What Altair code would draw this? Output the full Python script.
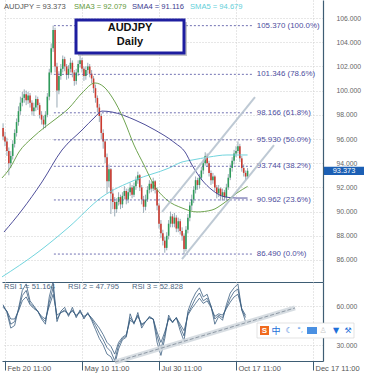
import altair as alt
import pandas as pd

# ---------------- data ----------------
BARS = list(range(-1, 127))
FIRST_OPEN = 96.9
CLOSES = [96.2, 95.8, 95.0, 94.0, 94.6, 95.6, 96.5, 97.4, 98.3, 99.0,
          99.4, 99.7, 99.2, 99.6, 99.0, 98.3, 98.6, 99.3, 98.8, 98.0,
          97.6, 97.2, 98.0, 99.5, 101.5, 103.5, 105.0, 102.0, 100.0, 101.2,
          101.8, 102.6, 102.0, 101.3, 101.8, 102.3, 101.5, 100.8, 101.5, 102.2,
          102.5, 101.8, 101.2, 101.7, 102.0, 101.4, 101.0, 100.2, 99.4, 98.6,
          97.9, 96.5, 95.8, 94.5, 92.5, 93.5, 91.5, 90.8, 90.2, 90.8,
          91.2, 90.6, 91.3, 91.7, 91.0, 91.6, 92.0, 91.4, 92.1, 92.6,
          93.0, 92.0, 91.0, 90.4, 91.0, 91.8, 92.3, 91.9, 92.5, 91.8,
          90.5, 89.0, 88.2, 87.6, 87.0, 88.0, 89.0, 89.6, 89.0, 89.5,
          88.6, 89.2, 88.4, 88.0, 86.9, 88.5, 89.5, 90.5, 91.0, 91.8,
          92.6, 92.2, 92.8, 93.4, 94.0, 94.6, 94.0, 93.2, 92.6, 92.9,
          92.0, 91.5, 91.9, 91.3, 91.6, 91.2, 92.0, 92.8, 93.6, 94.2,
          94.8, 95.0, 95.4, 94.4, 93.6, 93.2, 92.9, 93.373]
HIGHS = [97.3, 96.6, 96.1, 95.3, 95.0, 95.9, 96.8, 97.7, 98.7, 99.5,
         99.9, 100.1, 100.0, 99.9, 99.8, 99.2, 99.0, 99.6, 99.5, 99.0,
         98.3, 97.9, 98.3, 99.8, 101.8, 103.9, 105.37, 105.2, 102.3, 101.6,
         102.2, 102.9, 102.8, 102.2, 102.1, 102.7, 102.5, 101.7, 101.8, 102.5,
         102.9, 102.7, 102.0, 102.0, 102.3, 102.2, 101.7, 101.2, 100.5, 99.6,
         98.9, 98.1, 96.8, 96.0, 94.8, 93.9, 93.6, 91.9, 91.2, 91.1,
         91.6, 91.4, 91.6, 92.1, 91.9, 91.9, 92.4, 92.2, 92.4, 92.9,
         93.3, 93.1, 92.2, 91.3, 91.4, 92.1, 92.6, 92.5, 92.8, 92.6,
         92.0, 90.7, 89.3, 88.5, 87.9, 88.3, 89.3, 90.0, 89.8, 89.9,
         89.7, 89.5, 89.4, 88.7, 88.2, 88.8, 89.8, 90.8, 91.4, 92.1,
         92.9, 92.8, 93.1, 93.7, 94.3, 94.9, 94.8, 94.2, 93.4, 93.2,
         93.0, 92.2, 92.2, 92.0, 91.9, 91.8, 92.3, 93.1, 93.9, 94.5,
         95.1, 95.4, 95.8, 95.6, 94.6, 93.9, 93.4, 93.6]
LOWS = [95.9, 95.4, 94.6, 93.0, 93.6, 94.3, 95.3, 96.2, 97.1, 98.0,
        98.7, 99.0, 98.8, 98.9, 98.6, 98.0, 97.9, 98.3, 98.4, 97.7,
        97.2, 96.8, 96.9, 97.8, 99.2, 101.3, 103.2, 101.5, 98.6, 99.7,
        100.9, 101.5, 101.6, 100.9, 101.0, 101.5, 101.1, 100.4, 100.5, 101.2,
        101.9, 101.5, 100.8, 100.9, 101.4, 101.1, 100.6, 99.8, 99.0, 98.2,
        97.4, 96.0, 95.2, 94.0, 91.5, 92.0, 89.8, 90.2, 89.6, 89.9,
        90.5, 90.2, 90.3, 91.0, 90.6, 90.7, 91.3, 91.1, 91.2, 91.8,
        92.3, 91.7, 90.6, 89.9, 90.1, 90.8, 91.5, 91.6, 91.7, 91.5,
        90.1, 88.6, 87.8, 87.2, 86.6, 86.8, 87.7, 88.7, 88.7, 88.7,
        88.3, 88.3, 88.1, 87.6, 86.49, 86.7, 88.2, 89.2, 90.1, 90.7,
        91.5, 91.8, 91.9, 92.6, 93.1, 93.8, 93.7, 92.9, 92.2, 92.3,
        91.7, 91.1, 91.2, 90.9, 91.0, 90.9, 91.0, 91.8, 92.6, 93.3,
        93.9, 94.5, 94.8, 94.1, 93.3, 92.9, 92.6, 92.7]

SMA3_BARS = [-1.56, 2.60, 7.27, 14.03, 20.78, 27.01, 33.25, 40.0, 46.75, 51.43, 55.58,
             61.82, 67.01, 72.21, 77.40, 84.16, 91.95, 99.74, 107.53, 113.77, 120.52, 126.0]
SMA3_VALUES = [92.78, 93.60, 94.93, 96.08, 96.99, 97.74, 98.56, 99.80, 100.63, 100.30, 99.47,
               97.57, 95.50, 93.85, 92.20, 90.96, 90.30, 89.97, 90.13, 90.71, 91.54, 92.08]
SMA4_BARS = [-0.52, 8.83, 19.22, 29.61, 40.0, 46.75, 50.39, 55.58, 67.53, 77.92, 88.31,
             93.51, 97.14, 102.34, 107.53, 114.29, 120.52, 126.0]
SMA4_VALUES = [88.31, 90.13, 92.45, 95.09, 96.74, 97.82, 98.31, 98.23, 97.57, 96.74, 95.67,
               94.93, 93.85, 92.61, 91.79, 91.21, 91.12, 91.12]
SMA5_BARS = [-1.56, 16.62, 33.25, 50.39, 67.53, 85.19, 91.95, 97.14, 105.97, 115.32, 126.0]
SMA5_VALUES = [84.60, 86.58, 88.73, 91.21, 92.61, 93.60, 94.10, 94.26, 94.51, 94.68, 94.68]

FIB_PRICES = [105.370, 101.346, 98.166, 95.930, 93.744, 90.962, 86.490]
FIB_PCTS = [100.0, 78.6, 61.8, 50.0, 38.2, 23.6, 0.0]
FIB_START, FIB_END, FIB_LABEL_BAR = 25.4, 128.3, 130.8

CH_BARS = [81.56, 129.87, 91.95, 139.74]
CH_PRICES = [89.97, 99.47, 86.08, 95.50]
CH_IDS = ["upper", "upper", "lower", "lower"]

RSI_BARS = list(range(-1, 127, 2))
RSI1 = [60, 56, 46, 48, 57, 68, 72, 62, 59, 56,
        51, 48, 63, 74, 50, 55, 57, 53, 57, 52,
        56, 51, 54, 50, 45, 39, 34, 28, 25, 18,
        30, 35, 37, 51, 47, 53, 45, 48, 51, 50,
        37, 27, 38, 51, 48, 51, 44, 37, 54, 60,
        66, 70, 64, 66, 60, 50, 53, 51, 59, 66,
        71, 73, 57, 51.164]
RSI2 = [61, 55, 43, 45, 58, 72, 77, 64, 60, 56,
        50, 46, 67, 79, 48, 56, 59, 52, 59, 51,
        57, 50, 55, 49, 42, 35, 30, 23, 21, 15,
        27, 34, 36, 54, 46, 55, 43, 48, 52, 50,
        32, 22, 35, 53, 47, 51, 41, 33, 56, 64,
        70, 74, 67, 69, 60, 46, 52, 49, 61, 70,
        74, 77, 57, 47.795]
RSI3 = [59, 56, 50, 50, 56, 64, 67, 61, 58, 56,
        52, 50, 60, 69, 53, 55, 56, 54, 56, 53,
        55, 52, 54, 51, 47, 43, 38, 32, 29, 23,
        32, 36, 38, 49, 47, 52, 46, 48, 51, 50,
        40, 32, 40, 50, 48, 51, 46, 41, 53, 58,
        62, 66, 62, 64, 59, 52, 54, 53, 58, 63,
        67, 69, 58, 52.828]
RT_BARS = [57.14, 150.65]
RT_VALUES = [16.9, 58.5]

TICK_BARS = [0, 40, 80, 120, 160]
TICK_LABELS = ["Feb 20 11:00", "May 10 11:00", "Jul 30 11:00", "Oct 17 11:00", "Dec 17 11:00"]
PRICE_TICKS = [86, 88, 90, 92, 94, 96, 98, 100, 102, 104, 106]
RSI_TICKS = [30, 60]

LAST_PRICE = 93.373
LEGEND_TEXTS = ["AUDJPY = 93.373", "SMA3 = 92.079", "SMA4 = 91.116", "SMA5 = 94.679"]
RSI_TEXTS = ["RSI 1 = 51.164", "RSI 2 = 47.795", "RSI 3 = 52.828"]

# ---------------- layout / style ----------------
W, H_MAIN, H_RSI = 321, 282, 79
X_DOMAIN = [-1.56, 165.19]
P_DOMAIN = [84.18, 107.49]
R_DOMAIN = [17.7, 78.46]
FONT = "Liberation Sans Narrow, Liberation Sans, Arial"
BOLD_FONT = "Liberation Sans"
AXIS_DARK = "#3e5d74"
GRID = "#cfcfcf"
UP, DOWN, WICK = "#2f9b5a", "#cc3a2e", "#6f8796"
C_SMA3, C_SMA4, C_SMA5 = "#5f9a3c", "#3b3b8f", "#62cfd9"
FIB_C = "#4d4d9e"
RSI_C = "#3b5e80"

xs = alt.Scale(domain=X_DOMAIN, nice=False, zero=False)
ps = alt.Scale(domain=P_DOMAIN, nice=False, zero=False)
rs = alt.Scale(domain=R_DOMAIN, nice=False, zero=False)

XA = alt.Axis(orient="bottom", values=TICK_BARS, labels=False, ticks=False,
              domain=True, domainColor=AXIS_DARK, domainWidth=1.2,
              grid=True, gridColor=GRID, gridDash=[1, 2], title=None)
YA = alt.Axis(orient="right", values=PRICE_TICKS, format=".3f", labelFont=FONT,
              labelFontSize=6.8, labelColor="#666666", labelPadding=13, ticks=False,
              domain=True, domainColor=AXIS_DARK, domainWidth=1.2,
              grid=True, gridColor=GRID, gridDash=[1, 2], title=None)

label_expr = "".join(f"datum.value == {b} ? '{t}' : " for b, t in zip(TICK_BARS, TICK_LABELS)) + "''"
XRA = alt.Axis(orient="bottom", values=TICK_BARS, labelExpr=label_expr, labelAlign="left",
               labelBaseline="top", labelPadding=-6, labelOffset=2, labelFlush=False,
               labelOverlap=False, labelFont=FONT, labelFontSize=7.5, labelColor="#555555",
               tickSize=9, tickColor=AXIS_DARK, domain=True, domainColor=AXIS_DARK,
               domainWidth=1.2, grid=True, gridColor=GRID, gridDash=[1, 2], title=None)
YRA = alt.Axis(orient="right", values=RSI_TICKS, format=".3f", labelFont=FONT,
               labelFontSize=6.8, labelColor="#666666", labelPadding=13, ticks=False,
               domain=True, domainColor=AXIS_DARK, domainWidth=1.2,
               grid=True, gridColor=GRID, gridDash=[1, 2], title=None)


def MX(field):
    return alt.X(field, scale=xs, axis=XA, title=None)


def MY(field):
    return alt.Y(field, scale=ps, axis=YA, title=None)


# ---------------- main panel ----------------
opens = [FIRST_OPEN] + CLOSES[:-1]
cdf = pd.DataFrame({"bar": BARS, "open": opens, "high": HIGHS, "low": LOWS, "close": CLOSES})
cdf["dir"] = ["up" if c >= o else "down" for o, c in zip(opens, CLOSES)]
dir_color = alt.Color("dir:N", scale=alt.Scale(domain=["up", "down"], range=[UP, DOWN]), legend=None)

wicks = alt.Chart(cdf).mark_rule(strokeWidth=0.7, color=WICK).encode(
    x=MX("bar:Q"), y=MY("low:Q"), y2="high:Q")
bodies = alt.Chart(cdf).mark_rule(strokeWidth=1.6).encode(
    x=MX("bar:Q"), y=MY("open:Q"), y2="close:Q", color=dir_color)


def sma_layer(bars, vals, color):
    df = pd.DataFrame({"bar": bars, "price": vals})
    return alt.Chart(df).mark_line(color=color, strokeWidth=0.9, interpolate="monotone").encode(
        x=MX("bar:Q"), y=MY("price:Q"))


sma5 = sma_layer(SMA5_BARS, SMA5_VALUES, C_SMA5)
sma4 = sma_layer(SMA4_BARS, SMA4_VALUES, C_SMA4)
sma3 = sma_layer(SMA3_BARS, SMA3_VALUES, C_SMA3)

fdf = pd.DataFrame({"price": FIB_PRICES,
                    "label": [f"{p:.3f} ({q:.1f}%)" for p, q in zip(FIB_PRICES, FIB_PCTS)]})
fib_rules = alt.Chart(fdf).mark_rule(color=FIB_C, strokeDash=[2, 2], strokeWidth=0.8).encode(
    x=alt.XDatum(FIB_START, type="quantitative", scale=xs, axis=XA, title=None),
    x2=alt.X2Datum(FIB_END),
    y=MY("price:Q"))
fib_labels = alt.Chart(fdf).mark_text(align="left", baseline="middle", font=FONT, fontSize=7.9,
                                      color=FIB_C).encode(
    x=alt.XDatum(FIB_LABEL_BAR, type="quantitative", scale=xs, axis=XA, title=None),
    y=MY("price:Q"), text="label:N")

chdf = pd.DataFrame({"bar": CH_BARS, "price": CH_PRICES, "line": CH_IDS})
channel = alt.Chart(chdf).mark_line(color="#b3c0cd", strokeWidth=2, opacity=0.85).encode(
    x=MX("bar:Q"), y=MY("price:Q"), detail="line:N")

one = pd.DataFrame({"k": [0]})
box_shadow = alt.Chart(one).mark_rect(fill="#9a9a9a", opacity=0.55).encode(
    x=alt.value(76), x2=alt.value(185), y=alt.value(22), y2=alt.value(56))
box = alt.Chart(one).mark_rect(fill="white", stroke="#1e1ea0", strokeWidth=3).encode(
    x=alt.value(74), x2=alt.value(182), y=alt.value(20), y2=alt.value(53))
box_t1 = alt.Chart(one).mark_text(text="AUDJPY", font=BOLD_FONT, fontWeight="bold", fontSize=11,
                                  color="#111111", baseline="middle").encode(
    x=alt.value(128), y=alt.value(28))
box_t2 = alt.Chart(one).mark_text(text="Daily", font=BOLD_FONT, fontWeight="bold", fontSize=11,
                                  color="#111111", baseline="middle").encode(
    x=alt.value(128), y=alt.value(41.5))

legend_x = [2, 72, 130, 188]
legend_c = ["#555555", C_SMA3, C_SMA4, C_SMA5]
legend_layers = [
    alt.Chart(one).mark_text(text=t, font=FONT, fontSize=7.6, color=c, align="left",
                             baseline="middle").encode(x=alt.value(lx), y=alt.value(7))
    for t, c, lx in zip(LEGEND_TEXTS, legend_c, legend_x)]

tag_rect = alt.Chart(one).mark_rect(fill="#1c5fb4").encode(
    x=alt.value(322), x2=alt.value(362),
    y=alt.YDatum(LAST_PRICE + 0.34, type="quantitative", scale=ps, axis=YA, title=None),
    y2=alt.Y2Datum(LAST_PRICE - 0.34))
tag_text = alt.Chart(one).mark_text(text=f"{LAST_PRICE:.3f}", font=FONT, fontSize=7.4,
                                    color="white", baseline="middle").encode(
    x=alt.value(342),
    y=alt.YDatum(LAST_PRICE, type="quantitative", scale=ps, axis=YA, title=None))

main = alt.layer(wicks, bodies, sma5, sma4, sma3, fib_rules, fib_labels, channel,
                 box_shadow, box, box_t1, box_t2, *legend_layers, tag_rect, tag_text
                 ).properties(width=W, height=H_MAIN)

# ---------------- RSI panel ----------------
rdf = pd.DataFrame({
    "bar": RSI_BARS * 3,
    "value": RSI1 + RSI2 + RSI3,
    "series": ["RSI 1"] * len(RSI_BARS) + ["RSI 2"] * len(RSI_BARS) + ["RSI 3"] * len(RSI_BARS)})


def RX(field):
    return alt.X(field, scale=xs, axis=XRA, title=None)


def RY(field):
    return alt.Y(field, scale=rs, axis=YRA, title=None)


rsi_lines = alt.Chart(rdf).mark_line(color=RSI_C, strokeWidth=0.8, clip=True).encode(
    x=RX("bar:Q"), y=RY("value:Q"), detail="series:N")

rtdf = pd.DataFrame({"bar": RT_BARS, "value": RT_VALUES})
rt_wide = alt.Chart(rtdf).mark_line(color="#d3d9df", strokeWidth=5, opacity=0.9).encode(
    x=RX("bar:Q"), y=RY("value:Q"))
rt_dash = alt.Chart(rtdf).mark_line(color="#8e99a5", strokeWidth=1, strokeDash=[4, 2]).encode(
    x=RX("bar:Q"), y=RY("value:Q"))

rsi_x = [2, 66, 130]
rsi_labels = [
    alt.Chart(one).mark_text(text=t, font=FONT, fontSize=7.6, color="#4a6580", align="left",
                             baseline="middle").encode(x=alt.value(lx), y=alt.value(4.5))
    for t, lx in zip(RSI_TEXTS, rsi_x)]

# small toolbar overlay seen on the screenshot
tb_box = alt.Chart(one).mark_rect(fill="white", stroke="#d0d0d0", strokeWidth=0.6).encode(
    x=alt.value(255), x2=alt.value(352), y=alt.value(41), y2=alt.value(56))
tb_s = alt.Chart(one).mark_rect(fill="#f06a1e").encode(
    x=alt.value(258), x2=alt.value(267), y=alt.value(44), y2=alt.value(53))
tb_s_t = alt.Chart(one).mark_text(text="S", font=BOLD_FONT, fontWeight="bold", fontSize=8,
                                  color="white", baseline="middle").encode(
    x=alt.value(262.5), y=alt.value(48.7))
tb_zh = alt.Chart(one).mark_text(text="中", font="Noto Sans CJK SC", fontSize=9,
                                 color="#1e6fd9", baseline="middle").encode(
    x=alt.value(274), y=alt.value(48.5))
tb_moon = alt.Chart(one).mark_text(text="☾", font="DejaVu Sans", fontSize=8,
                                   color="#1e6fd9", baseline="middle").encode(
    x=alt.value(287), y=alt.value(48.5))
tb_dot = alt.Chart(one).mark_text(text="°,", font="DejaVu Sans", fontSize=7,
                                  color="#3a8ee6", baseline="middle").encode(
    x=alt.value(298), y=alt.value(48))
tb_kb = alt.Chart(one).mark_rect(fill="#4a90e2").encode(
    x=alt.value(305), x2=alt.value(315), y=alt.value(45), y2=alt.value(52))
tb_person = alt.Chart(one).mark_text(text="♙", font="DejaVu Sans", fontSize=8,
                                     color="#c8c8c8", baseline="middle").encode(
    x=alt.value(321), y=alt.value(48.5))
tb_shirt = alt.Chart(one).mark_text(text="▼", font="DejaVu Sans", fontSize=8,
                                    color="#1e6fd9", baseline="middle").encode(
    x=alt.value(334), y=alt.value(48.5))
tb_wrench = alt.Chart(one).mark_text(text="⚒", font="DejaVu Sans", fontSize=8,
                                     color="#1e6fd9", baseline="middle").encode(
    x=alt.value(346), y=alt.value(48.5))

rsi = alt.layer(rsi_lines, rt_wide, rt_dash, *rsi_labels,
                tb_box, tb_s, tb_s_t, tb_zh, tb_moon, tb_dot, tb_kb, tb_person, tb_shirt, tb_wrench
                ).properties(width=W, height=H_RSI)

chart = alt.vconcat(main, rsi, spacing=0).properties(
    padding=0, background="white"
).configure_view(stroke=None)

chart.save("out.html", embed_options={"renderer": "svg", "actions": False})
